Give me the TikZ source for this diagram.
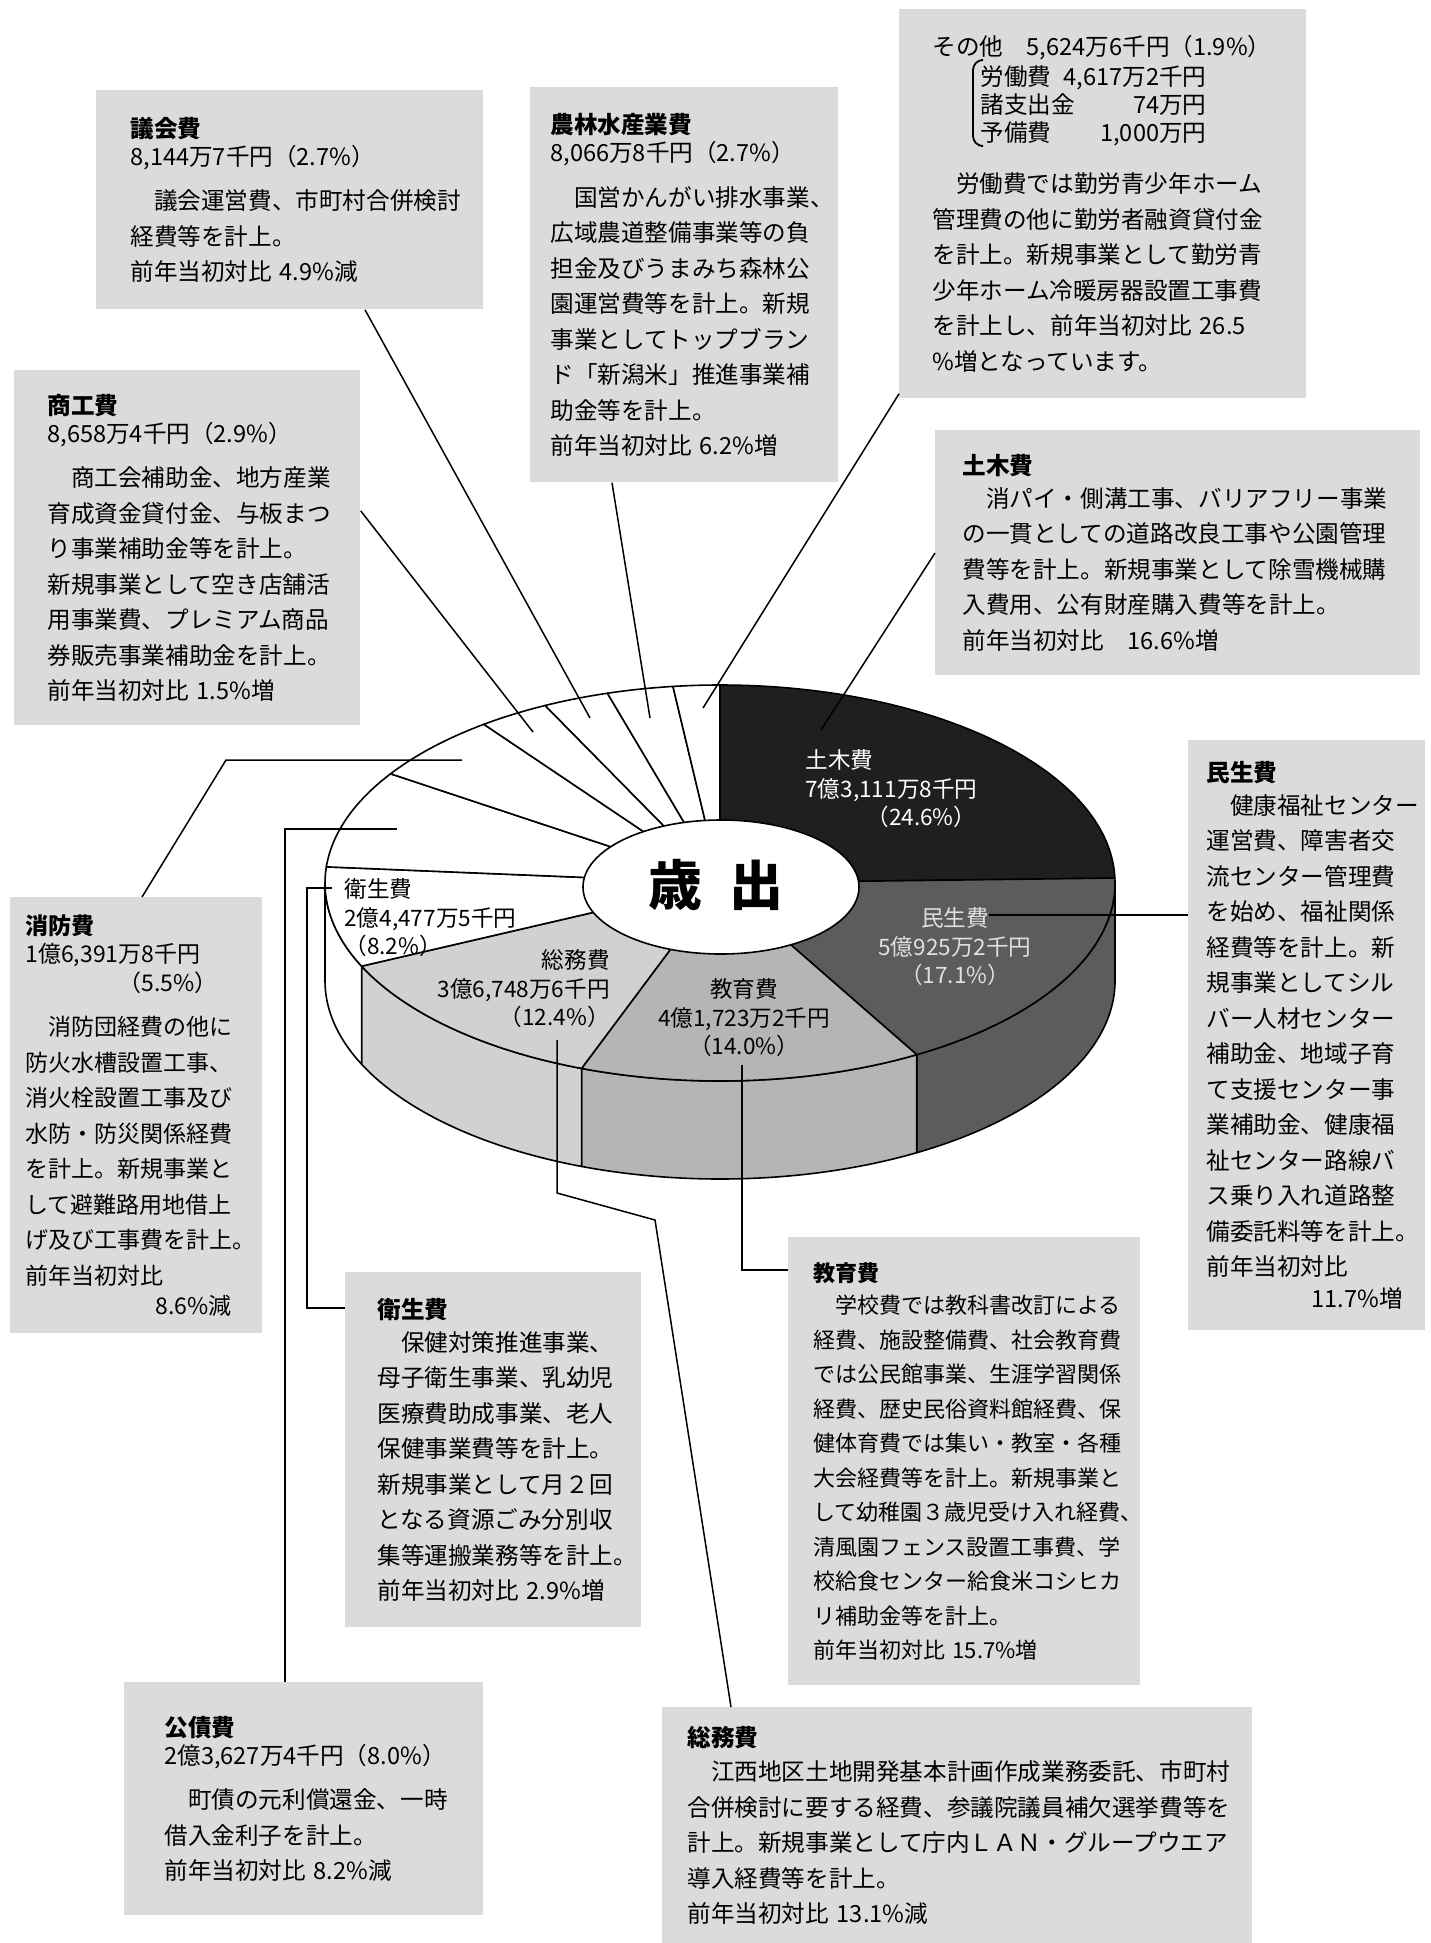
\documentclass[tikz,border=0pt]{standalone}
\usepackage{fontspec}
\setmainfont{Noto Sans CJK JP}
\usetikzlibrary{calc}
\definecolor{boxgray}{gray}{0.86}
\definecolor{dobokugray}{gray}{0.12}
\definecolor{minseigray}{gray}{0.36}
\definecolor{kyoikugray}{gray}{0.71}
\definecolor{somugray}{gray}{0.82}
\newcommand{\bodyfont}{\fontsize{11.8}{17.75}\selectfont}
\newcommand{\piefont}{\fontsize{11.3}{14.25}\selectfont}

\begin{document}
\begin{tikzpicture}[x=0.5pt,y=0.5pt,
  box/.style={fill=boxgray,anchor=north west,align=left,inner ysep=0pt,font=\bodyfont},
  pielabel/.style={inner sep=0pt,font=\piefont},
  lead/.style={draw=black,line width=0.75pt},
  slice/.style={draw=black,line width=0.8pt,line join=round}]
\fill[white] (0,0) rectangle (1430,-1943);
\useasboundingbox (0,0) rectangle (1430,-1943);

\node[box,minimum width=193.5pt,minimum height=109.5pt,inner xsep=17pt,text width=159.5pt] (gikai) at (96,-90) {%
\textbf{議会費}\\[-3.75pt]
8,144万7千円（2.7\%）\\[4.5pt]
　議会運営費、市町村合併検討\\
経費等を計上。\\
前年当初対比 4.9\%減};
\node[box,minimum width=154pt,minimum height=197.5pt,inner xsep=10pt,text width=134pt] (norin) at (530,-87) {%
\textbf{農林水産業費}\\[-3.75pt]
8,066万8千円（2.7\%）\\[4.5pt]
　国営かんがい排水事業、\\
広域農道整備事業等の負\\
担金及びうまみち森林公\\
園運営費等を計上。新規\\
事業としてトップブラン\\
ド「新潟米」推進事業補\\
助金等を計上。\\
前年当初対比 6.2\%増};
\node[box,minimum width=203.5pt,minimum height=194.5pt,inner xsep=16.5pt,text width=170.5pt] (sonota) at (899,-9) {%
その他　5,624万6千円（1.9\%）\\[-2.75pt]
\hspace*{24pt}\makebox[113pt]{労働費\hfill 4,617万2千円}\\[-3.75pt]
\hspace*{24pt}\makebox[113pt]{諸支出金\hfill 74万円}\\[-3.75pt]
\hspace*{24pt}\makebox[113pt]{予備費\hfill 1,000万円}\\[7.75pt]
　労働費では勤労青少年ホーム\\
管理費の他に勤労者融資貸付金\\
を計上。新規事業として勤労青\\
少年ホーム冷暖房器設置工事費\\
を計上し、前年当初対比 26.5\\
\%増となっています。};
\draw[line width=0.9pt,rounded corners=5pt] ($(sonota.north west)+(82,-51)$) -- ++(-8,0) -- ++(0,-86) -- ++(8,0);
\node[box,minimum width=173pt,minimum height=177.5pt,inner xsep=16.5pt,text width=140pt] (shoko) at (14,-370) {%
\textbf{商工費}\\[-3.75pt]
8,658万4千円（2.9\%）\\[4.5pt]
　商工会補助金、地方産業\\
育成資金貸付金、与板まつ\\
り事業補助金等を計上。\\
新規事業として空き店舗活\\
用事業費、プレミアム商品\\
券販売事業補助金を計上。\\
前年当初対比 1.5\%増};
\node[box,minimum width=242.5pt,minimum height=122.5pt,inner xsep=13.5pt,text width=215.5pt] (doboku) at (935,-430) {%
\textbf{土木費}\\[-1.5pt]
　消パイ・側溝工事、バリアフリー事業\\
の一貫としての道路改良工事や公園管理\\
費等を計上。新規事業として除雪機械購\\
入費用、公有財産購入費等を計上。\\
前年当初対比　16.6\%増};
\node[box,minimum width=126pt,minimum height=218pt,inner xsep=7.5pt,text width=111pt,font=\fontsize{11.5}{17.75}\selectfont] (shobo) at (10,-897) {%
\textbf{消防費}\\[-3.75pt]
1億6,391万8千円\\[-3.3pt]
\hspace*{46.5pt}（5.5\%）\\[4.5pt]
　消防団経費の他に\\
防火水槽設置工事、\\
消火栓設置工事及び\\
水防・防災関係経費\\
を計上。新規事業と\\
して避難路用地借上\\
げ及び工事費を計上。\\
前年当初対比\\[-2.75pt]
\hspace*{65pt}8.6\%減};
\node[box,minimum width=118.5pt,minimum height=295pt,inner xsep=9pt,text width=100.5pt] (minsei) at (1188,-740) {%
\textbf{民生費}\\[-1.5pt]
　健康福祉センター\\
運営費、障害者交\\
流センター管理費\\
を始め、福祉関係\\
経費等を計上。新\\
規事業としてシル\\
バー人材センター\\
補助金、地域子育\\
て支援センター事\\
業補助金、健康福\\
祉センター路線バ\\
ス乗り入れ道路整\\
備委託料等を計上。\\
前年当初対比\\[-2pt]
\hspace*{52.5pt}11.7\%増};
\node[box,minimum width=148pt,minimum height=177.5pt,inner xsep=16pt,text width=116pt] (eisei) at (345,-1272) {%
\textbf{衛生費}\\[-1.5pt]
　保健対策推進事業、\\
母子衛生事業、乳幼児\\
医療費助成事業、老人\\
保健事業費等を計上。\\
新規事業として月２回\\
となる資源ごみ分別収\\
集等運搬業務等を計上。\\
前年当初対比 2.9\%増};
\node[box,minimum width=176pt,minimum height=224pt,inner xsep=12.5pt,text width=151pt,font=\fontsize{11}{17.25}\selectfont] (kyoiku) at (788,-1237) {%
\textbf{教育費}\\[-1pt]
　学校費では教科書改訂による\\
経費、施設整備費、社会教育費\\
では公民館事業、生涯学習関係\\
経費、歴史民俗資料館経費、保\\
健体育費では集い・教室・各種\\
大会経費等を計上。新規事業と\\
して幼稚園３歳児受け入れ経費、\\
清風園フェンス設置工事費、学\\
校給食センター給食米コシヒカ\\
リ補助金等を計上。\\
前年当初対比 15.7\%増};
\node[box,minimum width=179.5pt,minimum height=116.5pt,inner xsep=20pt,text width=139.5pt] (kosai) at (124,-1682) {%
\textbf{公債費}\\[-3.75pt]
2億3,627万4千円（8.0\%）\\[4.5pt]
　町債の元利償還金、一時\\
借入金利子を計上。\\
前年当初対比 8.2\%減};
\node[box,minimum width=295pt,minimum height=118pt,inner xsep=12.5pt,text width=270pt] (somu) at (662,-1707) {%
\textbf{総務費}\\[-0.5pt]
　江西地区土地開発基本計画作成業務委託、市町村\\
合併検討に要する経費、参議院議員補欠選挙費等を\\
計上。新規事業として庁内ＬＡＮ・グループウエア\\
導入経費等を計上。\\
前年当初対比 13.1\%減};

\foreach \a/\b/\c in {0/-60.12/minseigray,-60.12/-110.52/kyoikugray,-110.52/-155.16/somugray,-155.16/-180/white}
  \filldraw[slice,fill=\c] ({720+395*cos(\a)},{-883+198*sin(\a)}) arc[start angle=\a,end angle=\b,x radius=395,y radius=198]
    -- ++(0,-98) arc[start angle=\b,end angle=\a,x radius=395,y radius=198] -- cycle;
\foreach \a/\b/\c in {90/1.44/dobokugray,1.44/-60.12/minseigray,-60.12/-110.52/kyoikugray,-110.52/-155.16/somugray,
    -155.16/-184.68/white,-184.68/-213.48/white,-213.48/-233.28/white,-233.28/-243.72/white,
    -243.72/-253.44/white,-253.44/-263.16/white,-263.16/-270/white}
  \filldraw[slice,fill=\c] (720,-883) -- ({720+395*cos(\a)},{-883+198*sin(\a)})
    arc[start angle=\a,end angle=\b,x radius=395,y radius=198] -- cycle;
\filldraw[slice,fill=white] (721,-887) ellipse[x radius=138,y radius=67];
\node[font=\fontsize{27}{27}\selectfont\bfseries] (saishutsu) at (716,-885) {歳\hspace{0.5em}出};

\node[pielabel,text=white,text width=85.5pt,align=left,anchor=west] (l-doboku) at (805,-789) {土木費\\7億3,111万8千円\\\hspace*{\fill}（24.6\%）};
\node[pielabel,text=white!88!black,align=center] (l-minsei) at (955,-947) {民生費\\5億925万2千円\\（17.1\%）};
\node[pielabel,align=center] (l-kyoiku) at (744,-1018) {教育費\\4億1,723万2千円\\（14.0\%）};
\node[pielabel,align=right,anchor=east] (l-somu) at (610,-989) {総務費\\3億6,748万6千円\\（12.4\%）};
\node[pielabel,align=left,anchor=west] (l-eisei) at (344,-918) {衛生費\\2億4,477万5千円\\（8.2\%）};

\coordinate (p-gikai) at (590,-718);
\coordinate (p-norin) at (650,-718);
\coordinate (p-sonota) at (703,-708);
\coordinate (p-shoko) at (533,-732);
\coordinate (p-doboku) at (821,-730);
\coordinate (p-shobo) at (462,-760);
\coordinate (p-kosai) at (397,-829);
\coordinate (p-eisei) at (332,-888);
\coordinate (p-minsei) at (989,-915);
\coordinate (p-kyoiku) at (742,-1065);
\coordinate (p-somu) at (557,-1040);

\draw[lead] ($(gikai.south west)+(269,0)$) -- (p-gikai);
\draw[lead] ($(norin.south west)+(82,0)$) -- (p-norin);
\draw[lead] ($(sonota.south west)+(0,5)$) -- (p-sonota);
\draw[lead] ($(shoko.north east)+(0,-141)$) -- (p-shoko);
\draw[lead] ($(doboku.north west)+(0,-123)$) -- (p-doboku);
\draw[lead] (p-shobo) -- ++(-236,0) -- ($(shobo.north west)+(132,0)$);
\draw[lead] (p-kosai) -| ($(kosai.north west)+(161,0)$);
\draw[lead] (p-eisei) -- ++(-25,0) |- ($(eisei.north west)+(0,-36)$);
\draw[lead] (p-minsei) -- (p-minsei -| minsei.west);
\draw[lead] (p-kyoiku) |- ($(kyoiku.north west)+(0,-33)$);
\draw[lead] (p-somu) -- ++(0,-153) -- ++(98,-27) -- ($(somu.north west)+(69,0)$);
\end{tikzpicture}
\end{document}
